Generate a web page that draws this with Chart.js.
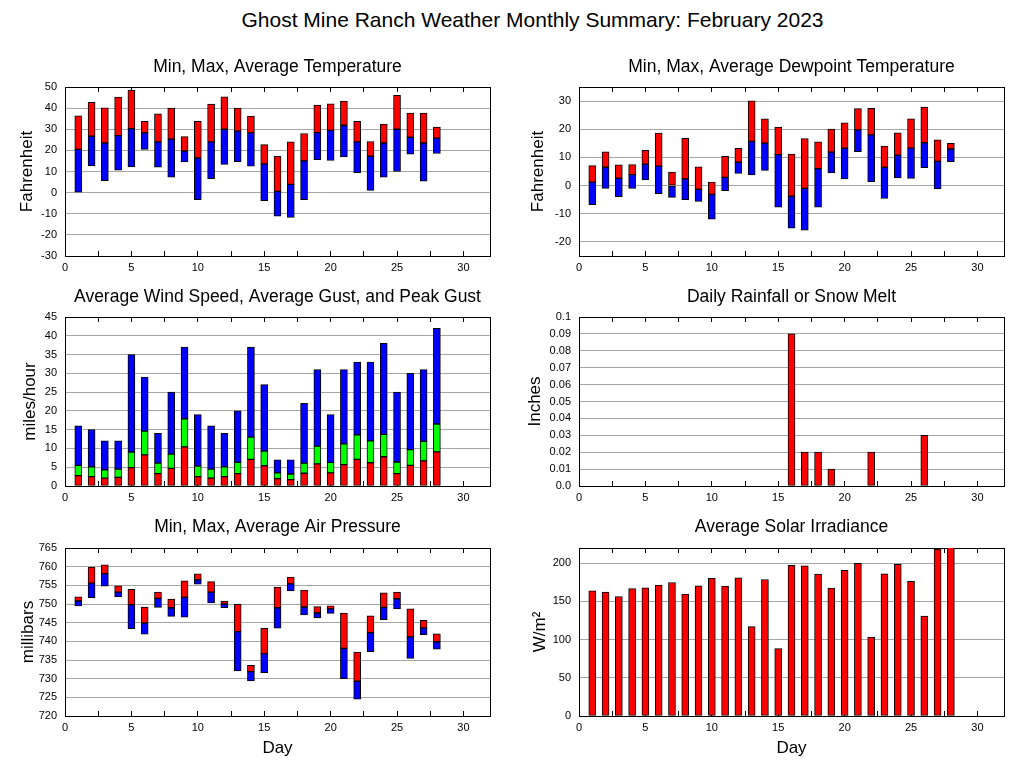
<!DOCTYPE html>
<html><head><meta charset="utf-8">
<script src="https://cdn.jsdelivr.net/npm/chart.js@4.4.0/dist/chart.umd.min.js"></script>
<style>
html,body{margin:0;padding:0;background:#fff;}
body{width:1027px;height:772px;position:relative;overflow:hidden;font-family:"Liberation Sans",Arial,Helvetica,sans-serif;}
#title{position:absolute;left:19px;top:8px;width:1027px;text-align:center;font-size:21px;line-height:24px;color:#000;}
canvas{position:absolute;}
</style></head><body>
<div id="title">Ghost Mine Ranch Weather Monthly Summary: February 2023</div>
<canvas id="c1"></canvas><canvas id="c2"></canvas>
<canvas id="c3"></canvas><canvas id="c4"></canvas>
<canvas id="c5"></canvas><canvas id="c6"></canvas>
<script>
// ---------------- data ----------------
const days = [1,2,3,4,5,6,7,8,9,10,11,12,13,14,15,16,17,18,19,20,21,22,23,24,25,26,27,28];

const tempMax = [36.3,42.7,40.1,45.2,48.5,33.8,37.3,40.0,26.5,33.8,41.9,45.3,40.0,36.2,22.7,17.2,24.0,28.0,41.4,42.0,43.3,33.8,24.2,32.5,46.1,37.6,37.6,31.0];
const tempAvg = [20.5,26.7,23.5,27.0,30.3,28.3,24.0,25.3,19.7,16.4,24.0,30.0,29.1,28.3,13.6,0.6,3.9,15.0,28.4,29.5,31.9,24.0,17.2,23.5,30.0,26.2,23.5,25.8];
const tempMin = [0.0,12.6,5.7,10.6,12.2,20.5,12.0,7.3,14.5,-3.3,6.6,13.3,14.7,12.5,-3.8,-11.1,-11.7,-3.3,15.6,15.2,16.9,9.5,1.1,7.3,10.0,18.2,5.4,18.5];

const dewMax = [7.1,12.0,7.4,7.5,12.5,18.6,4.8,16.8,6.7,1.2,10.4,13.2,30.1,23.7,20.8,11.2,16.7,15.5,20.1,22.3,27.3,27.4,14.0,18.7,23.7,27.9,16.2,15.0];
const dewAvg = [1.2,6.5,2.6,3.9,7.6,6.9,0.0,2.4,-1.3,-3.1,2.9,8.3,15.7,15.1,11.0,-3.8,-1.0,6.0,11.9,13.3,19.8,18.0,6.5,10.8,13.3,15.2,8.6,13.0];
const dewMin = [-6.8,-1.0,-3.9,-1.0,2.0,-2.9,-4.2,-5.0,-5.6,-11.9,-1.8,4.3,3.8,5.4,-7.7,-15.1,-15.8,-7.7,4.5,2.4,12.0,1.4,-4.6,2.7,2.5,6.4,-1.2,8.5];

const windAvg = [2.75,2.5,2.1,2.3,4.9,8.3,3.3,4.7,10.4,2.5,2.1,2.5,3.3,7.1,5.4,1.95,1.7,3.4,5.9,3.5,5.7,7.1,6.2,7.8,3.3,5.5,6.7,9.1];
const gustAvg = [5.5,5.1,4.3,4.5,9.05,14.6,6.1,8.5,17.9,5.3,4.5,5.1,6.3,13.0,9.3,3.5,3.2,6.1,10.6,6.3,11.2,13.6,12.0,13.75,6.4,9.7,11.9,16.5];
const gustPeak = [16,15,12,12,35,29,14,25,37,19,16,14,20,37,27,7,7,22,31,19,31,33,33,38,25,30,31,42];

const rain = [0,0,0,0,0,0,0,0,0,0,0,0,0,0,0,0.09,0.02,0.02,0.01,0,0,0.02,0,0,0,0.03,0,0];

const pressMax = [751.9,759.9,760.5,754.9,753.9,749.2,753.2,751.3,756.2,758.1,756.0,750.8,749.9,733.6,743.5,754.5,757.2,753.7,749.3,749.5,747.6,737.1,746.8,753.0,753.2,748.7,745.6,742.0];
const pressAvg = [750.8,755.6,758.1,753.2,749.8,744.9,751.5,749.0,751.8,756.5,753.2,750.0,742.6,731.9,736.7,749.0,755.4,749.2,747.6,748.7,738.1,729.3,742.3,749.1,751.4,741.2,743.6,739.9];
const pressMin = [749.5,751.7,754.8,751.9,743.4,741.9,749.1,746.7,746.5,755.3,750.3,749.0,732.1,729.4,731.6,743.5,753.5,747.1,746.3,747.5,730.0,724.5,737.2,745.8,748.7,735.4,741.8,737.9];

const solar = [163.9,162.2,156.5,167.0,167.8,171.3,174.8,159.6,170.4,180.4,170.0,180.9,117.0,178.7,88.3,197.4,196.5,185.7,167.4,190.9,200.0,103.5,186.1,198.7,176.5,130.9,218.7,222];

// tick values / labels
const xMajorStep = 5, xMinorStep = 2.5;
const tempTicks = [-30,-20,-10,0,10,20,30,40,50];
const dewTicks = [-20,-10,0,10,20,30];
const windTicks = [0,5,10,15,20,25,30,35,40,45];
const rainTicks = [0,0.01,0.02,0.03,0.04,0.05,0.06,0.07,0.08,0.09,0.1];
const rainTickLabels = ['0.0','0.01','0.02','0.03','0.04','0.05','0.06','0.07','0.08','0.09','0.1'];
const pressTicks = [720,725,730,735,740,745,750,755,760,765];
const solarTicks = [0,50,100,150,200];

// ---------------- style ----------------
Chart.defaults.font.family = '"Liberation Sans", Arial, Helvetica, sans-serif';
Chart.defaults.color = '#000';
const RED = '#ff0000', BLUE = '#0000ff', GREEN = '#00ff00';
const GRID = '#a6a6a6', EDGE = '#000000';
const TICK_FONT = {size: 11};
const LABEL_FONT = {size: 17};
const TITLE_FONT = {size: 17.5, weight: 'normal'};
const TICK_IN = 5;

function bars(lo, hi, color, skipZero) {
  return {
    data: days.map((d, i) => ({x: d, y: lo ? [lo[i], hi[i]] : (skipZero && hi[i] === 0 ? null : hi[i])})),
    backgroundColor: color, borderColor: EDGE, borderWidth: 1,
    borderSkipped: false, barThickness: 7, grouped: false
  };
}

function makePanel(p) {
  const cv = document.getElementById(p.id);
  const b = p.box, a = p.area;
  cv.width = b.w; cv.height = b.h;
  cv.style.left = b.x + 'px'; cv.style.top = b.y + 'px';
  cv.style.width = b.w + 'px'; cv.style.height = b.h + 'px';
  const L = TITLE_FONT.size * 1.2;
  const tTop = p.titleY - b.y - L / 2;
  const tBottom = a.top - b.y - tTop - L;
  const LL = LABEL_FONT.size * 1.2;
  const xLabel = v => (Math.abs(v % xMajorStep) < 1e-9 ? String(v) : '');
  new Chart(cv, {
    type: 'bar',
    data: {datasets: p.datasets},
    options: {
      responsive: false, animation: false, devicePixelRatio: 1,
      layout: {padding: {left: 0, top: 0, bottom: 0, right: b.x + b.w - a.right}},
      plugins: {
        legend: {display: false}, tooltip: {enabled: false},
        title: {display: true, fullSize: false, text: p.title, color: '#000', font: TITLE_FONT,
                padding: {top: tTop, bottom: tBottom}}
      },
      scales: {
        x: {
          type: 'linear', position: 'bottom', min: 0, max: 32, offset: false,
          afterFit: s => { s.height = b.y + b.h - a.bottom; },
          grid: {drawOnChartArea: false, drawTicks: true, tickLength: -TICK_IN, tickColor: EDGE, offset: false},
          border: {display: true, color: EDGE},
          ticks: {stepSize: xMinorStep, autoSkip: false, maxRotation: 0, minRotation: 0, includeBounds: false,
                  padding: 5 + TICK_IN, font: TICK_FONT, color: '#000', callback: xLabel},
          title: p.xTitle ? {display: true, text: p.xTitle, font: LABEL_FONT, color: '#000',
                             padding: {top: 0, bottom: b.y + b.h - p.xTitleY - LL / 2}} : {display: false}
        },
        x2: {
          type: 'linear', axis: 'x', position: 'top', min: 0, max: 32, offset: false,
          afterFit: s => { s.height = 0; },
          grid: {drawOnChartArea: false, drawTicks: true, tickLength: -TICK_IN, tickColor: EDGE, offset: false},
          border: {display: true, color: EDGE},
          ticks: {stepSize: xMinorStep, autoSkip: false, maxRotation: 0, includeBounds: false,
                  display: false}
        },
        y: {
          min: p.yMin, max: p.yMax,
          afterFit: s => { s.width = a.left - b.x; },
          afterBuildTicks: s => { s.ticks = p.yTicks.map(v => ({value: v})); },
          grid: {color: GRID, drawTicks: false},
          border: {display: true, color: EDGE},
          ticks: {padding: 8, font: TICK_FONT, color: '#000',
                  callback: (v, i) => (p.yLabels ? p.yLabels[i] : String(v))},
          title: {display: true, text: p.yTitle, font: LABEL_FONT, color: '#000',
                  padding: {top: p.yTitleX - b.x - LL / 2, bottom: 0}}
        },
        y2: {
          axis: 'y', position: 'right', min: p.yMin, max: p.yMax,
          afterFit: s => { s.width = 0; },
          grid: {display: false, drawOnChartArea: false, drawTicks: false},
          border: {display: true, color: EDGE},
          ticks: {display: false}
        }
      }
    }
  });
}

const LEFT = {x: 0, w: 513}, RIGHT = {x: 513, w: 514};
const ROW1 = {y: 40, h: 245, top: 87, bottom: 256, titleY: 67};
const ROW2 = {y: 285, h: 230, top: 317, bottom: 486, titleY: 297};
const ROW3 = {y: 515, h: 257, top: 548, bottom: 716, titleY: 527};
function box(c, r) { return {x: c.x, y: r.y, w: c.w, h: r.h}; }
function area(c, r) {
  return c === LEFT ? {left: 65, right: 490, top: r.top, bottom: r.bottom}
                    : {left: 579, right: 1004, top: r.top, bottom: r.bottom};
}

makePanel({id: 'c1', box: box(LEFT, ROW1), area: area(LEFT, ROW1), titleY: ROW1.titleY,
  title: 'Min, Max, Average Temperature', yTitle: 'Fahrenheit', yTitleX: 27,
  yMin: -30, yMax: 50, yTicks: tempTicks,
  datasets: [bars(tempMin, tempAvg, BLUE), bars(tempAvg, tempMax, RED)]});

makePanel({id: 'c2', box: box(RIGHT, ROW1), area: area(RIGHT, ROW1), titleY: ROW1.titleY,
  title: 'Min, Max, Average Dewpoint Temperature', yTitle: 'Fahrenheit', yTitleX: 538,
  yMin: -25, yMax: 35, yTicks: dewTicks,
  datasets: [bars(dewMin, dewAvg, BLUE), bars(dewAvg, dewMax, RED)]});

makePanel({id: 'c3', box: box(LEFT, ROW2), area: area(LEFT, ROW2), titleY: ROW2.titleY,
  title: 'Average Wind Speed, Average Gust, and Peak Gust', yTitle: 'miles/hour', yTitleX: 30,
  yMin: 0, yMax: 45, yTicks: windTicks,
  datasets: [bars(null, windAvg, RED), bars(windAvg, gustAvg, GREEN), bars(gustAvg, gustPeak, BLUE)]});

makePanel({id: 'c4', box: box(RIGHT, ROW2), area: area(RIGHT, ROW2), titleY: ROW2.titleY,
  title: 'Daily Rainfall or Snow Melt', yTitle: 'Inches', yTitleX: 535,
  yMin: 0, yMax: 0.1, yTicks: rainTicks, yLabels: rainTickLabels,
  datasets: [bars(null, rain, RED, true)]});

makePanel({id: 'c5', box: box(LEFT, ROW3), area: area(LEFT, ROW3), titleY: ROW3.titleY,
  title: 'Min, Max, Average Air Pressure', yTitle: 'millibars', yTitleX: 28,
  yMin: 720, yMax: 765, yTicks: pressTicks, xTitle: 'Day', xTitleY: 748,
  datasets: [bars(pressMin, pressAvg, BLUE), bars(pressAvg, pressMax, RED)]});

makePanel({id: 'c6', box: box(RIGHT, ROW3), area: area(RIGHT, ROW3), titleY: ROW3.titleY,
  title: 'Average Solar Irradiance', yTitle: 'W/m²', yTitleX: 540,
  yMin: 0, yMax: 220, yTicks: solarTicks, xTitle: 'Day', xTitleY: 748,
  datasets: [bars(null, solar, RED)]});
</script>
</body></html>
